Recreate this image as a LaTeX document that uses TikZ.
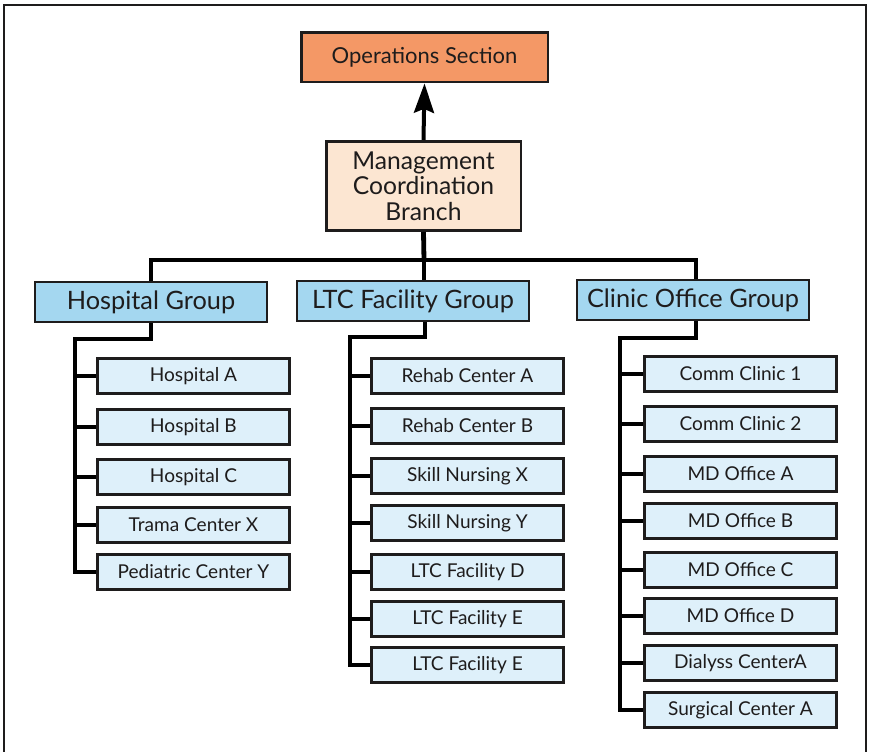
\documentclass[tikz,border=0pt]{standalone}
\usepackage{fontspec}
\setmainfont{Lato}
\usetikzlibrary{arrows.meta}
\usetikzlibrary{calc}

\definecolor{opsorange}{RGB}{244,152,102}
\definecolor{mcbpeach}{RGB}{252,230,210}
\definecolor{groupblue}{RGB}{164,215,240}
\definecolor{unitblue}{RGB}{222,240,250}
\definecolor{inkgray}{RGB}{30,28,28}

\tikzset{
  boxbase/.style={draw=inkgray, line width=2pt, inner sep=0pt, align=center, text=inkgray},
  topbox/.style={boxbase, fill=opsorange, minimum width=185pt, minimum height=37pt, font=\fontsize{16.5}{19}\selectfont},
  branchbox/.style={boxbase, fill=mcbpeach, minimum width=146pt, minimum height=67pt, font=\fontsize{18.5}{19}\selectfont},
  groupbox/.style={boxbase, fill=groupblue, minimum width=174pt, minimum height=30pt, font=\fontsize{19}{22}\selectfont},
  unitbox/.style={boxbase, fill=unitblue, minimum width=144pt, minimum height=26pt, font=\fontsize{14.3}{17}\selectfont},
  link/.style={draw=black, line width=3.6pt}
}

\begin{document}
\begin{tikzpicture}[x=0.75pt, y=-0.75pt]
\useasboundingbox (0,0) rectangle (869,752);
% outer frame (no bottom edge)
\draw[line width=2pt, draw=inkgray] (4,752) -- (4,5) -- (866,5) -- (866,752);

\node[topbox] (ops) at (424.5,57.5) {Operations Section};
\node[branchbox] (mcb) at (423.5,186) {Management\\Coordination\\Branch};

\node[groupbox] (hg) at (151,302) {Hospital Group};
\node[groupbox] (lg) at (413,301) {LTC Facility Group};
\node[groupbox] (cg) at (693,300) {Clinic Office Group};

\node[unitbox] (h1) at (193.5,376) {Hospital A};
\node[unitbox] (h2) at (193.5,427) {Hospital B};
\node[unitbox] (h3) at (193.5,477) {Hospital C};
\node[unitbox] (h4) at (193.5,525) {Trama Center X};
\node[unitbox] (h5) at (193.5,572) {Pediatric Center Y};

\node[unitbox] (l1) at (467.5,376) {Rehab Center A};
\node[unitbox] (l2) at (467.5,426) {Rehab Center B};
\node[unitbox] (l3) at (467.5,476) {Skill Nursing X};
\node[unitbox] (l4) at (467.5,523) {Skill Nursing Y};
\node[unitbox] (l5) at (467.5,572) {LTC Facility D};
\node[unitbox] (l6) at (467.5,619) {LTC Facility E};
\node[unitbox] (l7) at (467.5,665) {LTC Facility E};

\node[unitbox] (c1) at (740.5,374) {Comm Clinic 1};
\node[unitbox] (c2) at (740.5,424) {Comm Clinic 2};
\node[unitbox] (c3) at (740.5,474) {MD Office A};
\node[unitbox] (c4) at (740.5,521) {MD Office B};
\node[unitbox] (c5) at (740.5,570) {MD Office C};
\node[unitbox] (c6) at (740.5,616) {MD Office D};
\node[unitbox] (c7) at (740.5,663) {Dialyss CenterA};
\node[unitbox] (c8) at (740.5,710) {Surgical Center A};

% reporting line up to operations
\draw[link, line width=3pt, -{Stealth[length=22pt, width=15pt, inset=3pt]}] (mcb.north) -- (ops.south);

% bus to the three groups
\coordinate (bus) at (424,260);
\coordinate (busl) at (151,260);
\coordinate (busr) at (696,260);
\draw[link] (mcb.south) -- (bus);
\draw[link] (hg.north) -- (busl) -- (busr) -- (busr |- cg.north);
\draw[link] (bus) -- (bus |- lg.north);

% hospital trunk
\coordinate (ht) at (75,339);
\draw[link] (hg.south) |- (ht) -- (ht |- h5.west) -- (h5.west);
\draw[link] (ht |- h1.west) -- (h1.west);
\draw[link] (ht |- h2.west) -- (h2.west);
\draw[link] (ht |- h3.west) -- (h3.west);
\draw[link] (ht |- h4.west) -- (h4.west);

% ltc trunk
\coordinate (lt) at (350,337);
\coordinate (lg0) at (425,337);
\draw[link] (lg0 |- lg.south) -- (lg0) -- (lt) -- (lt |- l7.west) -- (l7.west);
\draw[link] (lt |- l1.west) -- (l1.west);
\draw[link] (lt |- l2.west) -- (l2.west);
\draw[link] (lt |- l3.west) -- (l3.west);
\draw[link] (lt |- l4.west) -- (l4.west);
\draw[link] (lt |- l5.west) -- (l5.west);
\draw[link] (lt |- l6.west) -- (l6.west);

% clinic trunk
\coordinate (ct) at (620,338);
\coordinate (cg0) at (696,338);
\draw[link] (cg0 |- cg.south) -- (cg0) -- (ct) -- (ct |- c8.west) -- (c8.west);
\draw[link] (ct |- c1.west) -- (c1.west);
\draw[link] (ct |- c2.west) -- (c2.west);
\draw[link] (ct |- c3.west) -- (c3.west);
\draw[link] (ct |- c4.west) -- (c4.west);
\draw[link] (ct |- c5.west) -- (c5.west);
\draw[link] (ct |- c6.west) -- (c6.west);
\draw[link] (ct |- c7.west) -- (c7.west);
\end{tikzpicture}
\end{document}
